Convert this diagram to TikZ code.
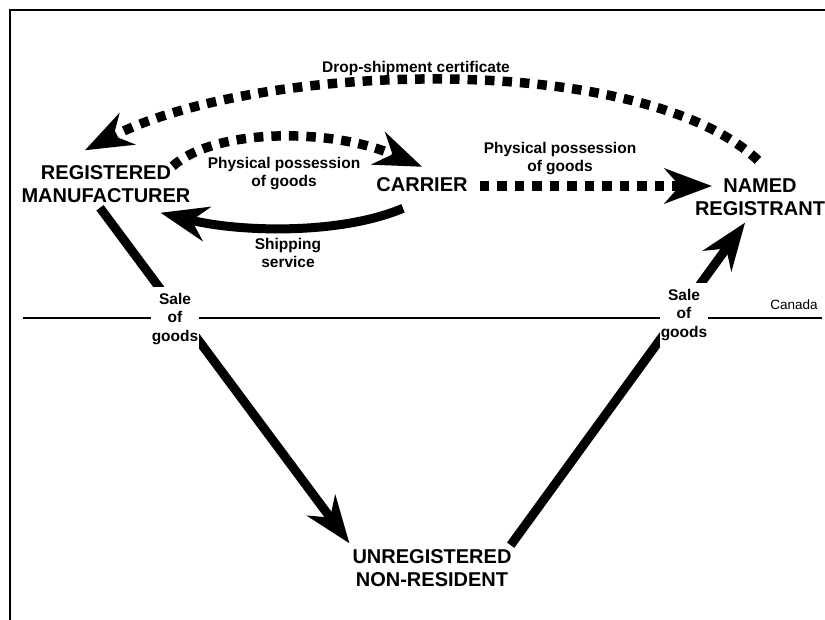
\documentclass[tikz,border=0pt]{standalone}
\usepackage{fontspec}
\setmainfont{Liberation Sans}
\usetikzlibrary{arrows.meta}
\begin{document}
\begin{tikzpicture}[x=1pt,y=-1pt,
  big/.style={font=\fontsize{20}{23}\selectfont\bfseries, align=center, inner sep=0pt},
  small/.style={font=\fontsize{15.5}{18.5}\selectfont\bfseries, align=center, inner sep=0pt},
  gap/.style={small, fill=white, inner xsep=1pt, inner ysep=6pt},
  tip/.style={-{Stealth[length=48pt,width=36pt,inset=16pt,line width=0pt]}},
  solidarrow/.style={line width=9pt, tip},
  dotarrow/.style={line width=9.5pt, dash pattern=on 9.5pt off 8pt, tip},
  thinline/.style={line width=1.3pt},
  framestyle/.style={line width=1.6pt}
]
\useasboundingbox (0,0) rectangle (825,620);

% frame (top and left edges)
\coordinate (fbl) at (10,620);
\coordinate (ftl) at (10,10);
\coordinate (ftr) at (825,10);
\draw[framestyle] (fbl) -- (ftl) -- (ftr);

% border line (Canada)
\coordinate (bl) at (23,318);
\coordinate (br) at (822,318);
\draw[thinline] (bl) -- (br);

% main nodes
\node[big] (mfr) at (106,184) {REGISTERED\\MANUFACTURER};
\node[big] (carrier) at (422,185) {CARRIER};
\node[big] (named) at (760,197) {NAMED\\REGISTRANT};
\node[big] (unreg) at (432,568) {UNREGISTERED\\NON-RESIDENT};

% drop-shipment certificate
\draw[dotarrow] ([xshift=-2pt,yshift=18pt]named.north)
  .. controls (640,50) and (260,62) .. ([xshift=-21pt,yshift=15pt]mfr.north);

% physical possession: manufacturer -> carrier
\draw[dotarrow] ([xshift=-18pt,yshift=-1pt]mfr.north east)
  .. controls (215,128) and (330,128) .. ([yshift=11pt]carrier.north);

% physical possession: carrier -> named registrant
\draw[dotarrow] ([xshift=12pt,yshift=-1pt]carrier.east) -- ([xshift=17pt,yshift=11pt]named.west);

% shipping service: carrier -> manufacturer
\draw[solidarrow] ([xshift=-19pt,yshift=-16pt]carrier.south)
  .. controls (340,235) and (240,232) .. ([xshift=-30pt,yshift=-10pt]mfr.south east);

% sale of goods: manufacturer -> non-resident
\draw[solidarrow] ([xshift=-6pt,yshift=-5pt]mfr.south) -- ([xshift=-3pt,yshift=6pt]unreg.north west);

% sale of goods: non-resident -> named registrant
\draw[solidarrow] ([xshift=-1pt,yshift=4pt]unreg.north east) -- ([xshift=-15pt,yshift=-7pt]named.south);

% labels
\node[small] (drop) at (416,68) {Drop-shipment certificate};
\node[small] (pp1) at (284,173.5) {Physical possession\\of goods};
\node[small] (pp2) at (560,158.5) {Physical possession\\of goods};
\node[small] (ship) at (288,253) {Shipping\\service};
\node[gap] (sale1) at (175,319) {Sale\\of\\goods};
\node[gap] (sale2) at (684,315) {Sale\\of\\goods};
\node[font=\fontsize{13.5}{16}\selectfont, inner sep=0pt] (canada) at (794,305) {Canada};
\end{tikzpicture}
\end{document}
